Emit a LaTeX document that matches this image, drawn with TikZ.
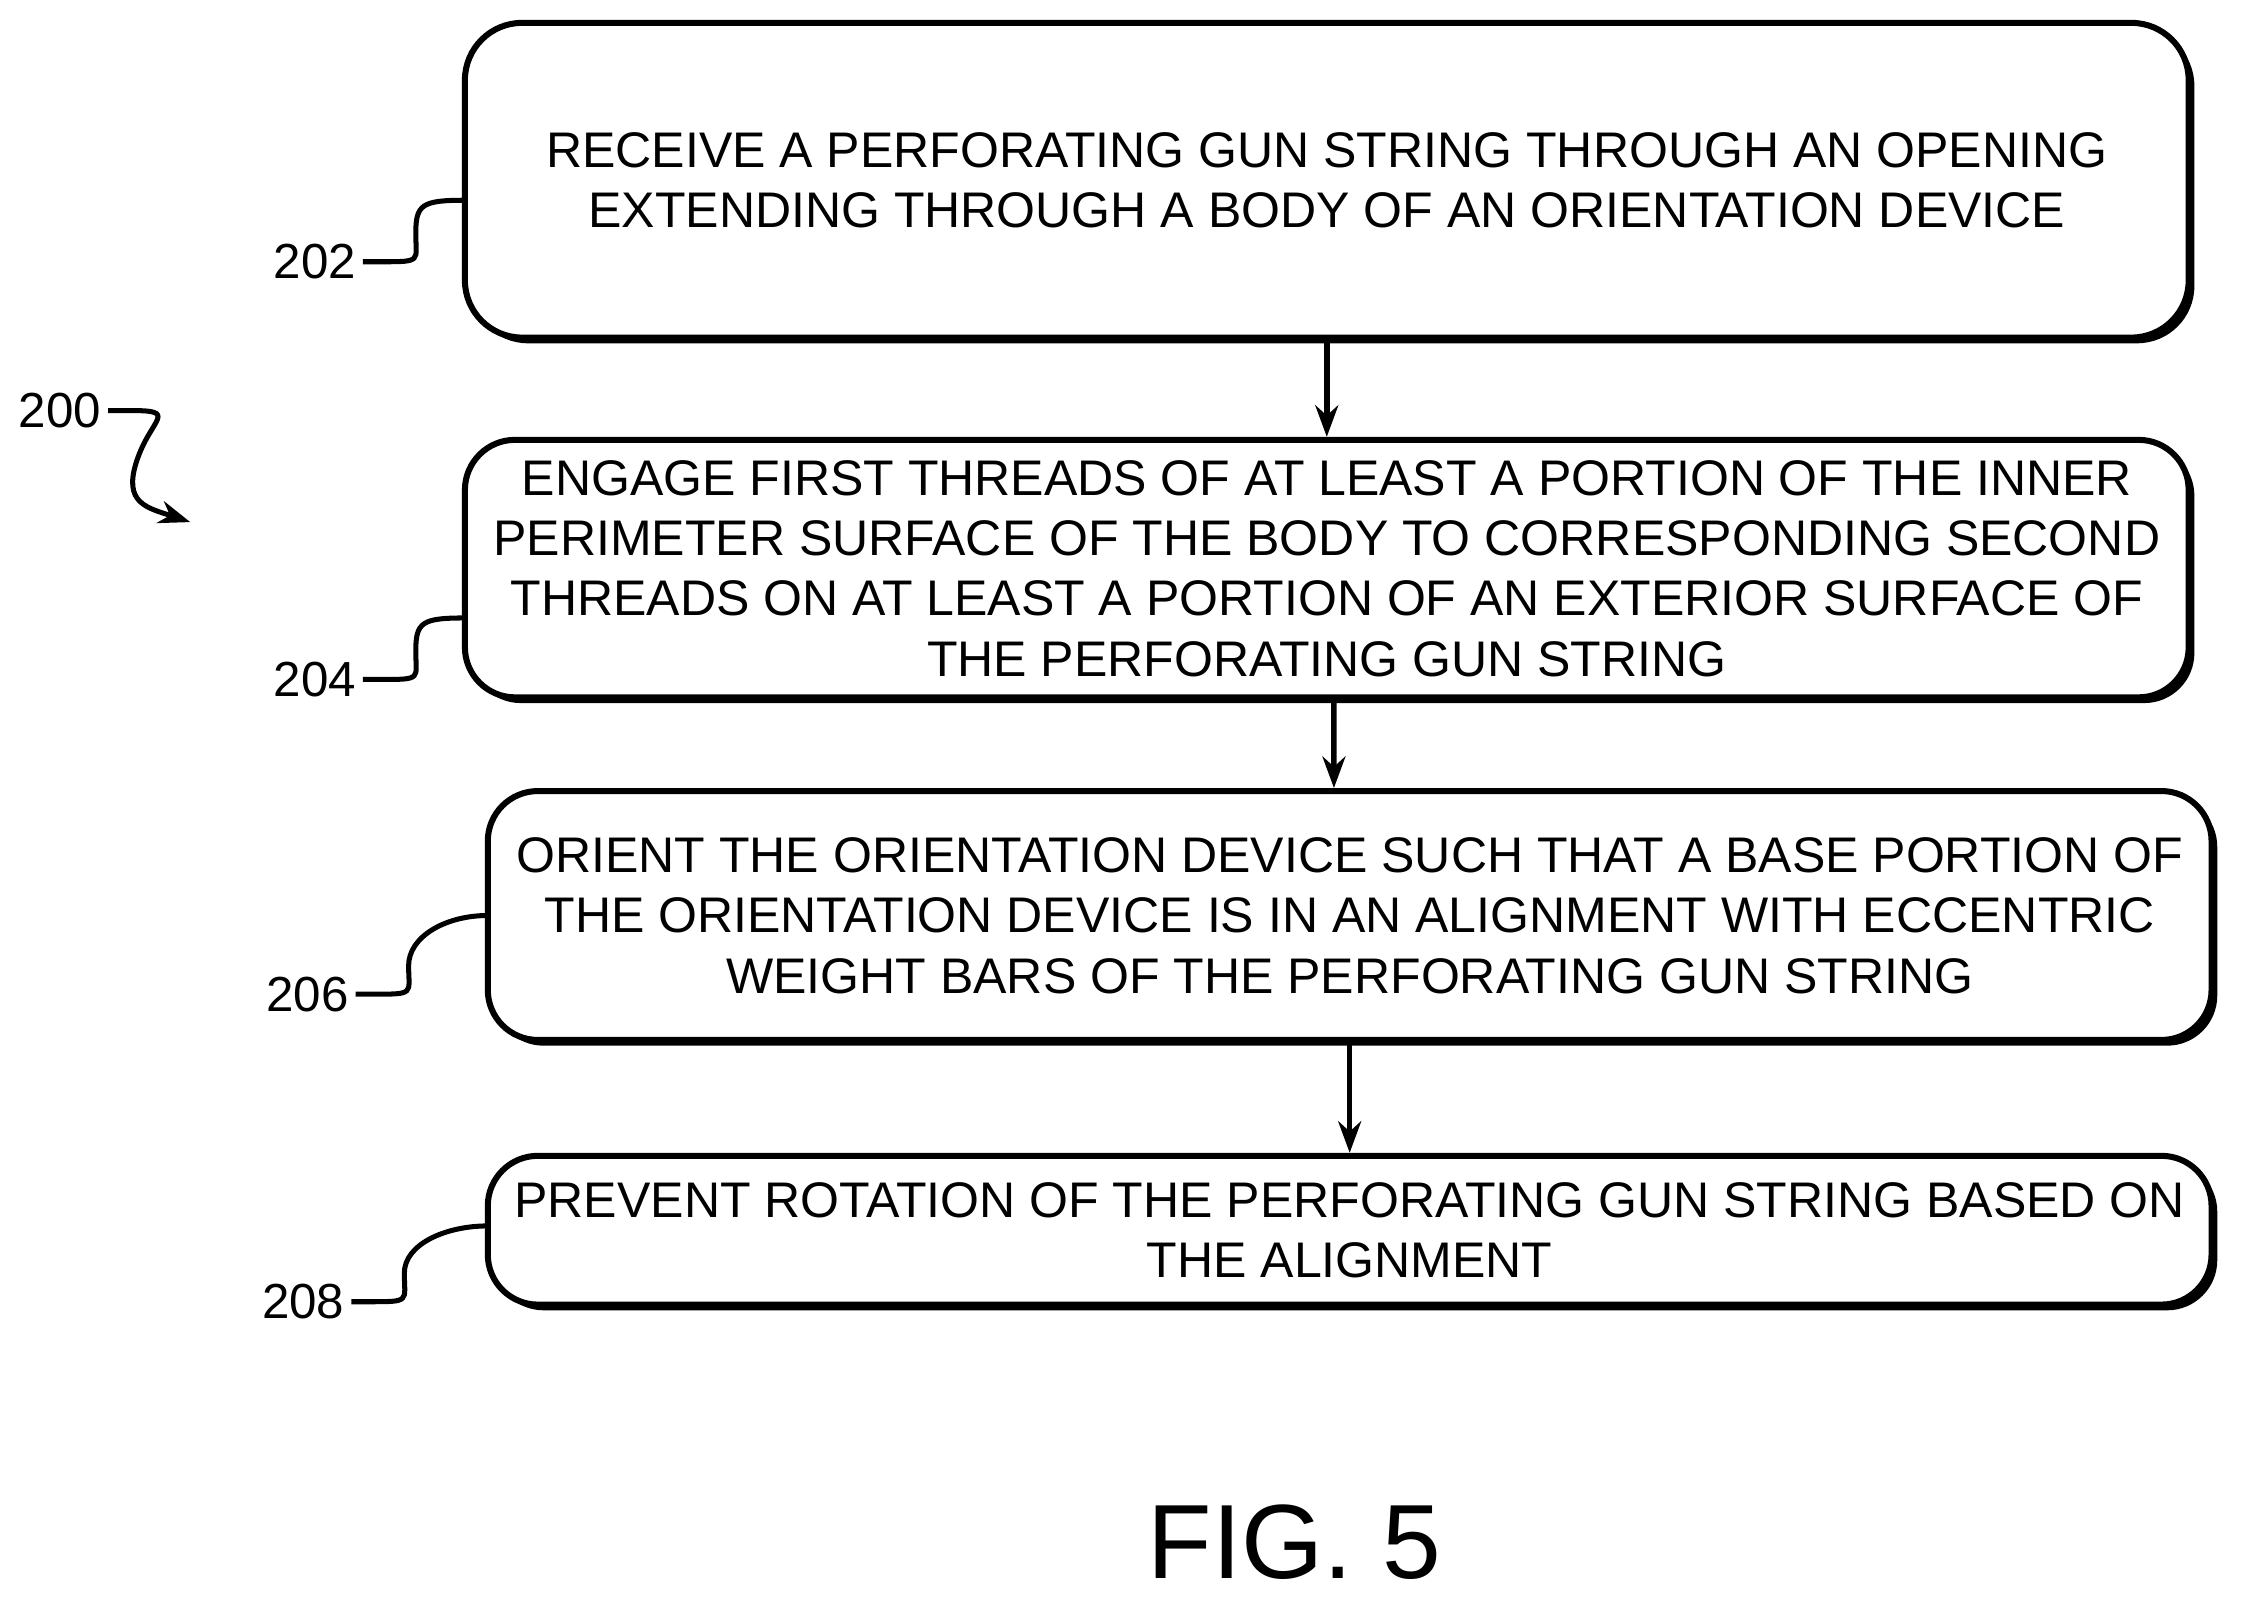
\documentclass[tikz,border=0pt]{standalone}
\usepackage{fontspec}
\setmainfont{Liberation Sans}
\usetikzlibrary{shadows,arrows.meta,calc}
\begin{document}
\begin{tikzpicture}[thick, font=\fontsize{9.95}{12}\selectfont]
\tikzset{
  stage/.style={draw, line width=1.2pt, rounded corners=0.35cm, align=center, fill=white,
    drop shadow={shadow xshift=0.04cm, shadow yshift=-0.04cm, opacity=1, fill=black}},
  flow/.style={-{Stealth[length=0.22cm,width=0.16cm]}, line width=1.1pt},
  tag/.style={draw=none, inner sep=1pt, font=\fontsize{9.8}{12}\selectfont}
}
%%%%%%%%%%%%%%%%%%%%%%%%%%%%%%%%%%%%%%%%%%% HELP LINES
%\draw[help lines] (0,0) grid +(15.68,11.2);
\useasboundingbox (0,0) rectangle (15.68,11.2);

%%%%%%%%%%%%%%%%%%%%%%%%%%%%%%%%%%%%%%%%%%% stages
\node[stage, minimum width=12.05cm, minimum height=2.2cm, rounded corners=0.4cm](s202) at (9.275,9.94)
  {RECEIVE A PERFORATING GUN STRING THROUGH AN OPENING\\EXTENDING THROUGH A BODY OF AN ORIENTATION DEVICE};
\node[stage, minimum width=12.05cm, minimum height=1.8cm](s204) at (9.275,7.225)
  {ENGAGE FIRST THREADS OF AT LEAST A PORTION OF THE INNER\\PERIMETER SURFACE OF THE BODY TO CORRESPONDING SECOND\\THREADS ON AT LEAST A PORTION OF AN EXTERIOR SURFACE OF\\THE PERFORATING GUN STRING};
\node[stage, minimum width=12.05cm, minimum height=1.74cm](s206) at (9.435,4.8)
  {ORIENT THE ORIENTATION DEVICE SUCH THAT A BASE PORTION OF\\THE ORIENTATION DEVICE IS IN AN ALIGNMENT WITH ECCENTRIC\\WEIGHT BARS OF THE PERFORATING GUN STRING};
\node[stage, minimum width=12.05cm, minimum height=1.04cm](s208) at (9.435,2.6)
  {PREVENT ROTATION OF THE PERFORATING GUN STRING BASED ON\\THE ALIGNMENT};

%%%%% labels
\node[tag](l202) at (2.2,9.37){202};
\node[tag](l204) at (2.2,6.45){204};
\node[tag](l206) at (2.15,4.25){206};
\node[tag](l208) at (2.12,2.1){208};
\node[tag](l200) at (0.42,8.33){200};
\node[font=\fontsize{21}{24}\selectfont](fig) at (9.05,0.42){FIG. 5};
\coordinate (c202) at (3.25,9.8);
\coordinate (c204) at (3.25,6.88);
\coordinate (c206) at (3.41,4.8);
\coordinate (c208) at (3.41,2.63);
\coordinate (e200) at (1.33,7.55);

%%%%% squiggles
\foreach \n in {202,204,206,208}
  \draw[line width=1pt] (l\n.east) -- ++(0.12,0) .. controls +(0.3,0) and +(0,-0.2) .. ++(0.25,0.2)
    .. controls +(0,0.2) and +(-0.3,0) .. (c\n);
\draw[line width=1pt, -{Stealth[length=0.22cm,width=0.16cm]}] (l200.east) -- ++(0.15,0)
  .. controls +(0.35,0) and +(0.1,0.3) .. ++(0.05,-0.35)
  .. controls +(-0.1,-0.3) and +(-0.3,0.1) .. (e200);

%%%%% edges
\draw[flow] (s202.south) -- (s204.north -| s202.south);
\draw[flow] ($(s204.south)+(0.05,0)$) -- ($(s206.north)+(-0.11,0)$);
\draw[flow] (s206.south) -- (s208.north);
\end{tikzpicture}
\end{document}
